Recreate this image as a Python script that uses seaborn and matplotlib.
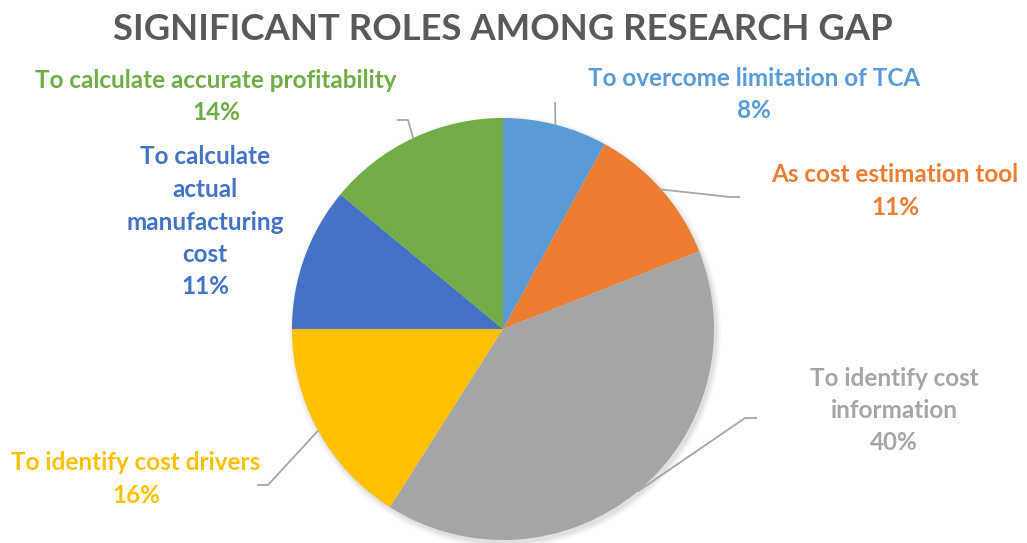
import numpy as np
import matplotlib
matplotlib.use("Agg")
import matplotlib.pyplot as plt
import seaborn as sns

# ---- data ----
categories = [
    "To overcome limitation of TCA",
    "As cost estimation tool",
    "To identify cost\ninformation",
    "To identify cost drivers",
    "To calculate\nactual\nmanufacturing\ncost",
    "To calculate accurate profitability",
]
values = [8, 11, 40, 16, 11, 14]
colors = ["#5B9BD5", "#ED7D31", "#A5A5A5", "#FFC000", "#4472C4", "#70AD47"]
title = "SIGNIFICANT ROLES AMONG RESEARCH GAP"

sns.set_theme(style="white")
plt.rcParams['font.family'] = ['Lato', 'DejaVu Sans']

W, H = 1027, 543
fig = plt.figure(figsize=(W / 100, H / 100), dpi=100)
ax = fig.add_axes([0, 0, 1, 1])

def Y(y):
    return H - y

cx, cy, r = 503, 329, 211

# soft shadow
for i, a in enumerate([0.05, 0.04, 0.03]):
    ax.add_patch(plt.Circle((cx + 2, Y(cy) - 3), r + 1 + i * 2, color="#000000",
                            alpha=a, lw=0, zorder=0))

wedges, _ = ax.pie(values, colors=colors, startangle=90, counterclock=False,
                   radius=r, center=(cx, Y(cy)), frame=True,
                   wedgeprops=dict(linewidth=0))
ax.set_xlim(0, W)
ax.set_ylim(0, H)
ax.set_aspect('equal')
ax.axis('off')

# label layout (pixel coords, top-origin): text center x, first-line y
label_pos = [(754, 78), (895, 175), (894, 378), (136, 463), (205, 157), (216, 80)]
# leader elbows: (elbow point, end point) or None
leaders = [
    ((555, 102), (555, 102)),
    ((730, 197), (740, 197)),
    ((745, 418), (757, 418)),
    ((268, 485), (257, 485)),
    None,
    ((408, 120), (397, 120)),
]

line_px = 32.5
cum = np.cumsum([0] + values)
total = float(sum(values))
for i, (cat, v) in enumerate(zip(categories, values)):
    lines = cat.split("\n") + [f"{v}%"]
    x0, y0 = label_pos[i]
    for k, ln in enumerate(lines):
        ax.text(x0, Y(y0 + k * line_px), ln, ha='center', va='center',
                fontsize=17.5, fontweight='bold', color=colors[i], zorder=5)
    if leaders[i] is not None:
        mid = (cum[i] + v / 2) / total * 360.0
        th = np.deg2rad(mid)
        sx, sy = cx + r * np.sin(th), cy - r * np.cos(th)
        (ex, ey), (fx, fy) = leaders[i]
        ax.plot([sx, ex, fx], [Y(sy), Y(ey), Y(fy)], color="#A6A6A6", lw=1.3,
                zorder=4, solid_capstyle='butt')

ax.text(503, Y(29), title, ha='center', va='center', fontsize=26.3,
        fontweight='bold', color="#595959")

fig.savefig("out.png", dpi=100)
